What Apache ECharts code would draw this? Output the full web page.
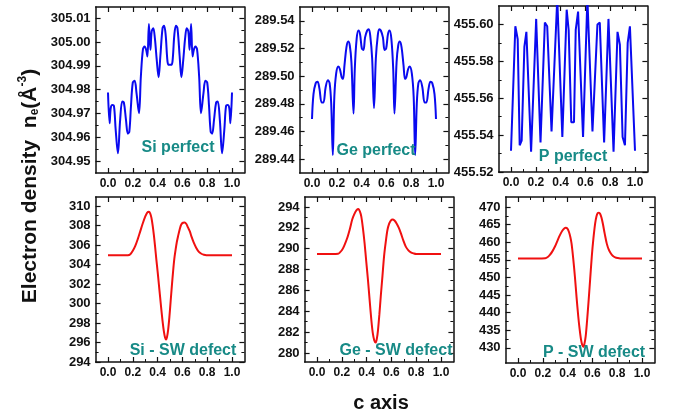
<!DOCTYPE html>
<html>
<head>
<meta charset="utf-8">
<script src="https://cdn.jsdelivr.net/npm/echarts@6/dist/echarts.min.js"></script>
<style>
  html, body { margin: 0; padding: 0; background: #ffffff; }
  #chart { width: 675px; height: 416px; }
</style>
</head>
<body>
<div id="chart"></div>
<script>
// ---- Electron density along the c axis ----

// Si, perfect lattice
const siPerfectX = [0.000,0.013,0.022,0.035,0.048,0.062,0.080,0.098,0.115,0.128,0.145,0.160,0.172,0.185,0.200,0.215,0.230,0.250,0.265,0.282,0.295,0.308,0.318,0.330,0.342,0.352,0.365,0.378,0.393,0.408,0.422,0.440,0.452,0.465,0.480,0.492,0.508,0.520,0.535,0.548,0.560,0.578,0.592,0.607,0.622,0.635,0.648,0.658,0.670,0.682,0.692,0.705,0.718,0.735,0.750,0.770,0.785,0.800,0.815,0.828,0.840,0.855,0.872,0.885,0.902,0.920,0.938,0.952,0.965,0.978,0.987,1.000];
const siPerfectY = [304.9788,304.9659,304.9722,304.9736,304.9732,304.9631,304.9533,304.9673,304.9750,304.9746,304.9673,304.9615,304.9624,304.9729,304.9830,304.9837,304.9785,304.9701,304.9855,304.9970,304.9981,304.9967,304.9939,305.0076,304.9967,305.0044,305.0058,305.0016,304.9925,304.9852,304.9939,305.0058,305.0068,305.0030,304.9918,304.9904,304.9904,304.9918,305.0030,305.0068,305.0058,304.9939,304.9852,304.9925,305.0016,305.0058,305.0044,304.9967,305.0076,304.9939,304.9967,304.9981,304.9970,304.9855,304.9701,304.9785,304.9837,304.9830,304.9729,304.9624,304.9615,304.9673,304.9746,304.9750,304.9673,304.9533,304.9631,304.9732,304.9736,304.9722,304.9659,304.9788];

// Ge, perfect lattice
const gePerfectX = [0.000,0.012,0.030,0.045,0.060,0.078,0.092,0.110,0.128,0.142,0.155,0.168,0.180,0.195,0.212,0.225,0.240,0.250,0.262,0.278,0.292,0.305,0.318,0.335,0.345,0.360,0.375,0.388,0.402,0.415,0.428,0.445,0.458,0.470,0.485,0.500,0.515,0.530,0.542,0.555,0.572,0.585,0.598,0.612,0.625,0.640,0.655,0.665,0.682,0.695,0.708,0.722,0.738,0.750,0.760,0.775,0.788,0.805,0.820,0.832,0.845,0.858,0.872,0.890,0.908,0.922,0.940,0.955,0.970,0.988,1.000];
const gePerfectY = [289.469,289.487,289.495,289.496,289.491,289.481,289.481,289.492,289.497,289.495,289.480,289.443,289.485,289.502,289.507,289.505,289.499,289.498,289.508,289.521,289.525,289.522,289.510,289.473,289.505,289.527,289.533,289.530,289.520,289.519,289.528,289.533,289.534,289.529,289.513,289.477,289.513,289.529,289.534,289.533,289.528,289.519,289.520,289.530,289.533,289.527,289.505,289.473,289.510,289.522,289.525,289.521,289.508,289.498,289.499,289.505,289.507,289.502,289.485,289.443,289.480,289.495,289.497,289.492,289.481,289.481,289.491,289.496,289.495,289.487,289.469];

// P, perfect lattice
const pPerfectX = [0.000,0.035,0.054,0.070,0.086,0.108,0.124,0.162,0.203,0.238,0.273,0.292,0.327,0.340,0.373,0.414,0.449,0.465,0.486,0.508,0.522,0.541,0.581,0.616,0.657,0.670,0.697,0.716,0.751,0.786,0.827,0.859,0.878,0.900,0.919,0.941,0.959,1.000];
const pPerfectY = [455.5315,455.599,455.592,455.5345,455.537,455.588,455.596,455.531,455.603,455.536,455.601,455.599,455.542,455.542,455.614,455.539,455.608,455.597,455.547,455.547,455.597,455.607,455.539,455.614,455.542,455.542,455.600,455.601,455.536,455.603,455.531,455.596,455.589,455.539,455.5345,455.590,455.599,455.5315];

// Si, Stone-Wales defect
const siDefectX = [0.00,0.10,0.16,0.18,0.20,0.22,0.24,0.26,0.28,0.30,0.315,0.33,0.34,0.35,0.36,0.37,0.38,0.39,0.40,0.41,0.42,0.43,0.44,0.45,0.46,0.468,0.475,0.485,0.495,0.505,0.515,0.525,0.535,0.545,0.555,0.565,0.58,0.591,0.605,0.618,0.632,0.645,0.66,0.672,0.69,0.712,0.733,0.753,0.773,0.793,0.85,1.00];
const siDefectY = [304.94,304.94,304.95,305.05,305.4,305.9,306.6,307.4,308.2,308.9,309.3,309.4,309.25,308.8,308.0,307.0,305.8,304.5,303.3,302.0,300.7,299.4,298.2,297.2,296.5,296.3,296.5,297.3,298.6,300.2,301.8,303.3,304.6,305.5,306.3,306.9,307.7,308.1,308.28,308.3,308.15,307.8,307.4,306.9,306.3,305.7,305.3,305.1,305.0,304.95,304.94,304.94];

// Ge, Stone-Wales defect
const geDefectX = [0.00,0.12,0.17,0.185,0.203,0.22,0.243,0.265,0.284,0.30,0.319,0.335,0.345,0.357,0.37,0.384,0.397,0.411,0.425,0.438,0.45,0.462,0.473,0.483,0.492,0.503,0.514,0.528,0.541,0.555,0.568,0.582,0.595,0.61,0.625,0.643,0.66,0.676,0.696,0.716,0.737,0.757,0.78,0.80,0.86,1.00];
const geDefectY = [289.5,289.5,289.52,289.65,289.9,290.3,291.0,291.9,292.8,293.3,293.7,293.8,293.6,293.1,292.0,290.5,288.8,287.0,285.0,283.2,281.9,281.2,281.0,281.4,282.2,283.7,285.4,287.4,289.3,290.7,291.8,292.4,292.7,292.8,292.7,292.4,292.0,291.5,290.8,290.2,289.85,289.65,289.55,289.5,289.5,289.5];

// P, Stone-Wales defect
const pDefectX = [0.00,0.15,0.22,0.24,0.257,0.277,0.297,0.318,0.338,0.356,0.373,0.385,0.397,0.411,0.422,0.432,0.445,0.459,0.472,0.486,0.497,0.508,0.518,0.527,0.536,0.546,0.557,0.568,0.582,0.595,0.608,0.622,0.633,0.643,0.653,0.662,0.673,0.684,0.70,0.716,0.732,0.749,0.766,0.784,0.804,0.824,0.90,1.00];
const pDefectY = [455.4,455.4,455.45,455.8,456.4,457.4,458.7,460.4,462.0,463.2,463.9,464.1,463.9,462.9,461.5,459.6,455.5,450.2,444.5,438.9,435.3,432.4,430.8,430.3,431.2,433.3,437.7,442.7,449.5,455.9,461.0,465.3,467.4,468.3,468.4,468.1,467.0,465.3,462.3,459.6,457.9,456.8,456.1,455.7,455.5,455.4,455.4,455.4];

// Tick values
const xTicks = [0.0, 0.2, 0.4, 0.6, 0.8, 1.0];
const xMinorTicks = [0.1, 0.3, 0.5, 0.7, 0.9];
const siPerfectTicks = [304.95, 304.96, 304.97, 304.98, 304.99, 305.00, 305.01];
const siPerfectMinor = [304.955, 304.965, 304.975, 304.985, 304.995, 305.005];
const gePerfectTicks = [289.44, 289.46, 289.48, 289.50, 289.52, 289.54];
const gePerfectMinor = [289.45, 289.47, 289.49, 289.51, 289.53];
const pPerfectTicks = [455.52, 455.54, 455.56, 455.58, 455.60];
const pPerfectMinor = [455.53, 455.55, 455.57, 455.59];
const siDefectTicks = [294, 296, 298, 300, 302, 304, 306, 308, 310];
const siDefectMinor = [295, 297, 299, 301, 303, 305, 307, 309];
const geDefectTicks = [280, 282, 284, 286, 288, 290, 292, 294];
const geDefectMinor = [281, 283, 285, 287, 289, 291, 293];
const pDefectTicks = [430, 435, 440, 445, 450, 455, 460, 465, 470];
const pDefectMinor = [432.5, 437.5, 442.5, 447.5, 452.5, 457.5, 462.5, 467.5];

// Panel titles
const panelTitles = ['Si perfect', 'Ge perfect', 'P perfect', 'Si - SW defect', 'Ge - SW defect', 'P - SW defect'];

const BLUE = '#0a0af0';
const RED = '#f01010';
const TEAL = '#178a86';
const FONT = '"Liberation Sans", Arial, sans-serif';

const panels = [
  { xs: siPerfectX, ys: siPerfectY, ticks: siPerfectTicks, minor: siPerfectMinor, dec: 2, color: BLUE, smooth: 0.35,
    box: { left: 95.6, top: 7, height: 166 }, yMin: 304.945, yMax: 305.0147, title: [178, 148] },
  { xs: gePerfectX, ys: gePerfectY, ticks: gePerfectTicks, minor: gePerfectMinor, dec: 2, color: BLUE, smooth: 0.35,
    box: { left: 299.6, top: 7, height: 166 }, yMin: 289.430, yMax: 289.550, title: [376, 151] },
  { xs: pPerfectX, ys: pPerfectY, ticks: pPerfectTicks, minor: pPerfectMinor, dec: 2, color: BLUE, smooth: false,
    box: { left: 498.6, top: 6, height: 166 }, yMin: 455.52, yMax: 455.61, title: [573, 157] },
  { xs: siDefectX, ys: siDefectY, ticks: siDefectTicks, minor: siDefectMinor, dec: 0, color: RED, smooth: 0.3,
    box: { left: 95.6, top: 197, height: 165 }, yMin: 294, yMax: 310.92, title: [183, 351] },
  { xs: geDefectX, ys: geDefectY, ticks: geDefectTicks, minor: geDefectMinor, dec: 0, color: RED, smooth: 0.3,
    box: { left: 304.6, top: 197, height: 165 }, yMin: 279.14, yMax: 294.96, title: [396, 351] },
  { xs: pDefectX, ys: pDefectY, ticks: pDefectTicks, minor: pDefectMinor, dec: 0, color: RED, smooth: 0.3,
    box: { left: 505.6, top: 197, height: 166 }, yMin: 425.7, yMax: 472.84, title: [594, 353] }
];

const grid = [], xAxis = [], yAxis = [], series = [], graphic = [];
const lineStyle = { color: '#111', width: 1.5 };

panels.forEach((p, i) => {
  grid.push({ left: p.box.left, top: p.box.top, width: 148.8, height: p.box.height });

  const xBase = { gridIndex: i, type: 'value', min: -0.1, max: 1.1, splitLine: { show: false } };
  const xi = xAxis.length;
  // bottom axis with labels and major ticks
  xAxis.push(Object.assign({}, xBase, {
    position: 'bottom',
    axisLine: { show: true, onZero: false, lineStyle },
    axisTick: { show: true, inside: true, length: 5, customValues: xTicks, lineStyle: { color: '#111', width: 1.2 } },
    axisLabel: { show: true, customValues: xTicks, margin: 5, color: '#111', fontSize: 12, fontWeight: 'bold', fontFamily: FONT,
      formatter: v => v.toFixed(1) }
  }));
  // top frame with major ticks
  xAxis.push(Object.assign({}, xBase, {
    position: 'top',
    axisLine: { show: true, onZero: false, lineStyle },
    axisTick: { show: true, inside: true, length: 5, customValues: xTicks, lineStyle: { color: '#111', width: 1.2 } },
    axisLabel: { show: false }
  }));
  // minor ticks, bottom and top
  ['bottom', 'top'].forEach(pos => xAxis.push(Object.assign({}, xBase, {
    position: pos,
    axisLine: { show: false, onZero: false },
    axisTick: { show: true, inside: true, length: 3, customValues: xMinorTicks, lineStyle: { color: '#111', width: 1 } },
    axisLabel: { show: false }
  })));

  const yBase = { gridIndex: i, type: 'value', min: p.yMin, max: p.yMax, scale: true, splitLine: { show: false } };
  const yi = yAxis.length;
  yAxis.push(Object.assign({}, yBase, {
    position: 'left',
    axisLine: { show: true, onZero: false, lineStyle },
    axisTick: { show: true, inside: true, length: 5, customValues: p.ticks, lineStyle: { color: '#111', width: 1.2 } },
    axisLabel: { show: true, customValues: p.ticks, margin: 5, color: '#111', fontSize: 13, fontWeight: 'bold', fontFamily: FONT,
      formatter: (dec => v => v.toFixed(dec))(p.dec) }
  }));
  yAxis.push(Object.assign({}, yBase, {
    position: 'right',
    axisLine: { show: true, onZero: false, lineStyle },
    axisTick: { show: true, inside: true, length: 5, customValues: p.ticks, lineStyle: { color: '#111', width: 1.2 } },
    axisLabel: { show: false }
  }));
  ['left', 'right'].forEach(pos => yAxis.push(Object.assign({}, yBase, {
    position: pos,
    axisLine: { show: false, onZero: false },
    axisTick: { show: true, inside: true, length: 3, customValues: p.minor, lineStyle: { color: '#111', width: 1 } },
    axisLabel: { show: false }
  })));

  series.push({
    type: 'line',
    xAxisIndex: xi,
    yAxisIndex: yi,
    data: p.xs.map((x, k) => [x, p.ys[k]]),
    showSymbol: false,
    smooth: p.smooth,
    clip: true,
    lineStyle: { color: p.color, width: 2 },
    animation: false
  });

  graphic.push({
    type: 'text', x: p.title[0], y: p.title[1], z: 10,
    style: { text: panelTitles[i], fill: TEAL, font: 'bold 16px ' + FONT, textAlign: 'center', textVerticalAlign: 'middle' }
  });
});

// axis titles
graphic.push({
  type: 'text', x: 30, y: 186, rotation: Math.PI / 2, z: 10,
  style: {
    text: '{a|Electron density  n}{sub|e}{a|(Å}{sup|-3}{a|)}',
    textAlign: 'center', textVerticalAlign: 'middle',
    rich: {
      a: { fontSize: 21, fontWeight: 'bold', fontFamily: FONT, fill: '#111' },
      sub: { fontSize: 12, fontWeight: 'bold', fontFamily: FONT, fill: '#111', padding: [10, 0, 0, 0] },
      sup: { fontSize: 12, fontWeight: 'bold', fontFamily: FONT, fill: '#111', padding: [0, 0, 14, 0] }
    }
  }
});
graphic.push({
  type: 'text', x: 381, y: 403, z: 10,
  style: { text: 'c axis', fill: '#111', font: 'bold 20px ' + FONT, textAlign: 'center', textVerticalAlign: 'middle' }
});

const chart = echarts.init(document.getElementById('chart'), null, { renderer: 'canvas' });
chart.setOption({
  backgroundColor: '#ffffff',
  animation: false,
  grid, xAxis, yAxis, series, graphic
});
</script>
</body>
</html>
